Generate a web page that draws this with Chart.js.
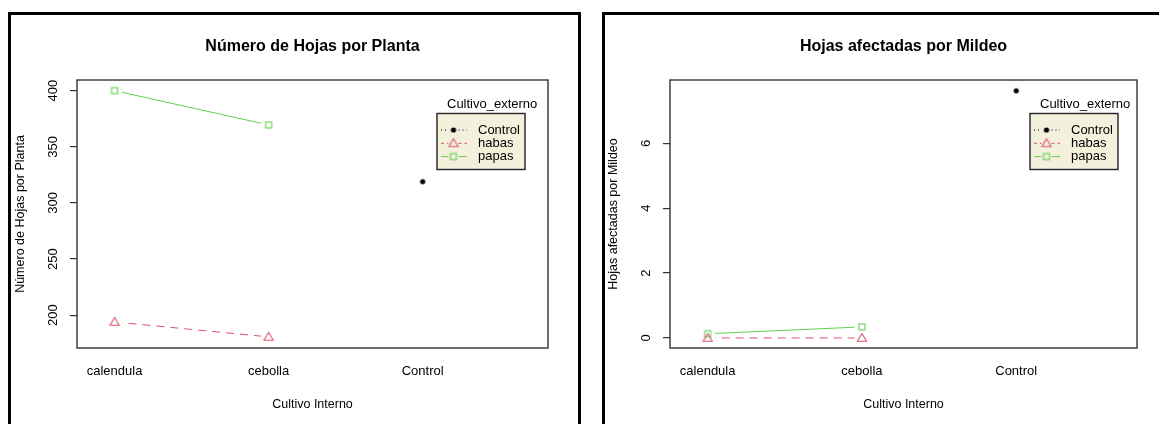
<!DOCTYPE html>
<html>
<head>
<meta charset="utf-8">
<script src="https://cdn.jsdelivr.net/npm/chart.js@4/dist/chart.umd.min.js"></script>
<style>
  html, body { margin: 0; padding: 0; background: #fff; }
  body { width: 1159px; height: 424px; position: relative; overflow: hidden; }
  .panel { position: absolute; box-sizing: border-box; border: 3px solid #000; pointer-events: none; z-index: 2; }
  canvas { position: absolute; top: 0; }
</style>
</head>
<body>
<div class="panel" style="left:8px; top:12px; width:573px; height:440px;"></div>
<div class="panel" style="left:602px; top:12px; width:600px; height:440px;"></div>
<canvas id="hojas" width="592" height="424" style="left:0px"></canvas>
<canvas id="mildeo" width="566" height="424" style="left:593px"></canvas>
<script>
// Factor del eje x y niveles del factor de traza
const cultivoInterno = ['calendula', 'cebolla', 'Control'];
const cultivoExterno = ['Control', 'habas', 'papas'];

// Número de hojas por planta (media por combinación)
const hojasControl = [null, null, 319];
const hojasHabas   = [194, 180.7, null];
const hojasPapas   = [400, 369.5, null];

// Hojas afectadas por mildeo (media por combinación)
const mildeoControl = [null, null, 7.62];
const mildeoHabas   = [0, 0, null];
const mildeoPapas   = [0.13, 0.34, null];

// Marcas del eje y
const ticksHojas  = [200, 250, 300, 350, 400];
const ticksMildeo = [0, 2, 4, 6];

const FONT = "'Liberation Sans', Arial, sans-serif";
Chart.defaults.font.family = FONT;
Chart.defaults.color = '#000';

const estilos = {
  Control: { color: '#000000', dash: [1, 3], marker: 'dot' },
  habas:   { color: '#DF536B', dash: [8, 6], marker: 'triangle' },
  papas:   { color: '#61D04F', dash: [],     marker: 'square' }
};

// Símbolos tipo R: pch 20, pch 2 y pch 0
function simbolo(kind, color) {
  const s = 16, c = document.createElement('canvas');
  c.width = s; c.height = s;
  const g = c.getContext('2d');
  const m = s / 2;
  g.strokeStyle = color; g.fillStyle = color; g.lineWidth = 1.1;
  if (kind === 'square') {
    g.strokeRect(m - 3, m - 3, 6, 6);
  } else if (kind === 'triangle') {
    g.beginPath(); g.moveTo(m, m - 4.5); g.lineTo(m + 4.6, m + 3.2); g.lineTo(m - 4.6, m + 3.2); g.closePath(); g.stroke();
  } else {
    g.beginPath(); g.arc(m, m, 2.6, 0, 2 * Math.PI); g.fill();
  }
  return c;
}
const simbolos = {};
for (const k of cultivoExterno) simbolos[k] = simbolo(estilos[k].marker, estilos[k].color);

// Las líneas se interrumpen alrededor de cada punto (type = "b")
const cortesLinea = {
  id: 'cortesLinea',
  beforeDatasetDraw(chart, args) {
    const ds = chart.data.datasets[args.index];
    if (!ds.gapRadius) return;
    const ctx = chart.ctx, r = ds.gapRadius;
    ctx.save();
    ctx.beginPath();
    ctx.rect(0, 0, chart.width, chart.height);
    for (const el of args.meta.data) {
      if (el.skip || isNaN(el.y)) continue;
      ctx.moveTo(el.x + r, el.y);
      ctx.arc(el.x, el.y, r, 0, 2 * Math.PI);
    }
    ctx.clip('evenodd');
  },
  afterDatasetDraw(chart, args) {
    const ds = chart.data.datasets[args.index];
    if (ds.gapRadius) chart.ctx.restore();
  }
};

// Recuadro del área de trazado
const recuadro = {
  id: 'recuadro',
  afterDraw(chart) {
    const { ctx, chartArea: a } = chart;
    ctx.save();
    ctx.strokeStyle = '#333';
    ctx.lineWidth = 1.4;
    ctx.strokeRect(a.left, a.top, a.right - a.left, a.bottom - a.top);
    ctx.restore();
  }
};

// Leyenda con título, fondo crema y muestras línea + símbolo
const leyenda = {
  id: 'leyenda',
  afterDraw(chart, args, opts) {
    const ctx = chart.ctx;
    const x = opts.left, y = opts.top, w = 88, h = 56;
    ctx.save();
    ctx.fillStyle = '#F3F1DC';
    ctx.fillRect(x, y, w, h);
    ctx.strokeStyle = '#222';
    ctx.lineWidth = 1.4;
    ctx.strokeRect(x, y, w, h);
    ctx.font = '13px ' + FONT;
    ctx.fillStyle = '#000';
    ctx.textBaseline = 'middle';
    ctx.textAlign = 'left';
    ctx.fillText(opts.title, x + 10, y - 9.5);
    cultivoExterno.forEach((name, i) => {
      const st = estilos[name];
      const ry = y + 16.5 + i * 13.3;
      const xm = x + 16.5;
      ctx.strokeStyle = st.color;
      ctx.lineWidth = 1;
      ctx.setLineDash(st.dash.length ? (name === 'habas' ? [3, 3] : st.dash) : []);
      ctx.beginPath();
      ctx.moveTo(x + 4, ry); ctx.lineTo(xm - 5, ry);
      ctx.moveTo(xm + 5, ry); ctx.lineTo(x + 30, ry);
      ctx.stroke();
      ctx.setLineDash([]);
      const img = simbolos[name];
      ctx.drawImage(img, xm - img.width / 2, ry - img.height / 2);
      ctx.fillStyle = '#000';
      ctx.fillText(name, x + 41, ry);
    });
    ctx.restore();
  }
};

// Separación fija entre etiquetas giradas del eje y y el eje
function separacionEtiquetas(valores) {
  const g = document.createElement('canvas').getContext('2d');
  g.font = '13px ' + FONT;
  const ancho = Math.max(...valores.map(v => g.measureText(String(v)).width));
  return 77 - 7 - 53.5 - ancho / 2;
}

function graficoInteraccion(id, cfg) {
  const series = [cfg.control, cfg.habas, cfg.papas];
  const datasets = [];
  cultivoExterno.forEach((name, k) => {
    const st = estilos[name];
    const pts = series[k].map((v, i) => ({ x: i + 1, y: v }));
    datasets.push({
      label: name, data: pts, borderColor: st.color, borderDash: st.dash,
      borderWidth: 1, pointRadius: 0, gapRadius: 7.5, fill: false, tension: 0
    });
    datasets.push({
      label: name, data: pts, showLine: false, pointStyle: simbolos[name],
      pointRadius: 4, borderColor: st.color
    });
  });

  return new Chart(document.getElementById(id), {
    type: 'line',
    data: { datasets },
    plugins: [cortesLinea, recuadro, leyenda],
    options: {
      responsive: false,
      animation: false,
      events: [],
      layout: { padding: { left: 0, right: cfg.padRight, top: 0, bottom: 0 } },
      plugins: {
        legend: { display: false },
        tooltip: { enabled: false },
        title: {
          display: true, text: cfg.title, fullSize: false, color: '#000',
          font: { size: 16, weight: 'bold' },
          padding: { top: 37.4, bottom: 23.4 }
        },
        leyenda: { left: 437, top: 113.5, title: 'Cultivo_externo' }
      },
      scales: {
        x: {
          type: 'linear', min: 0.756, max: cfg.xMax,
          afterBuildTicks: s => { s.ticks = cultivoInterno.map((_, i) => ({ value: i + 1 })); },
          afterFit: s => { s.height = 76; },
          grid: { display: false, drawTicks: false },
          border: { display: false },
          ticks: {
            autoSkip: false, maxRotation: 0, padding: 16,
            font: { size: 13 }, color: '#000',
            callback: (v, i) => cultivoInterno[i]
          },
          title: {
            display: true, text: 'Cultivo Interno', color: '#000',
            font: { size: 12.5 }, padding: { top: 0, bottom: 11.5 }
          }
        },
        y: {
          type: 'linear', min: cfg.yMin, max: cfg.yMax,
          afterBuildTicks: s => { s.ticks = cfg.ticks.map(v => ({ value: v })); },
          afterFit: s => { s.width = 77; },
          grid: { display: true, drawOnChartArea: false, drawTicks: true, tickLength: 7, color: '#333', lineWidth: 1.2 },
          border: { display: false },
          ticks: {
            minRotation: 90, maxRotation: 90, crossAlign: 'center',
            padding: separacionEtiquetas(cfg.ticks),
            font: { size: 13 }, color: '#000',
            callback: v => String(v)
          },
          title: {
            display: true, text: cfg.yTitle, color: '#000',
            font: { size: 12.5 }, padding: { top: 13, bottom: 0 }
          }
        }
      }
    }
  });
}

graficoInteraccion('hojas', {
  title: 'Número de Hojas por Planta',
  yTitle: 'Número de Hojas por Planta',
  control: hojasControl, habas: hojasHabas, papas: hojasPapas,
  ticks: ticksHojas, yMin: 170.8, yMax: 409.5, xMax: 3.814, padRight: 44
});

graficoInteraccion('mildeo', {
  title: 'Hojas afectadas por Mildeo',
  yTitle: 'Hojas afectadas por Mildeo',
  control: mildeoControl, habas: mildeoHabas, papas: mildeoPapas,
  ticks: ticksMildeo, yMin: -0.31, yMax: 7.95, xMax: 3.783, padRight: 22
});
</script>
</body>
</html>
